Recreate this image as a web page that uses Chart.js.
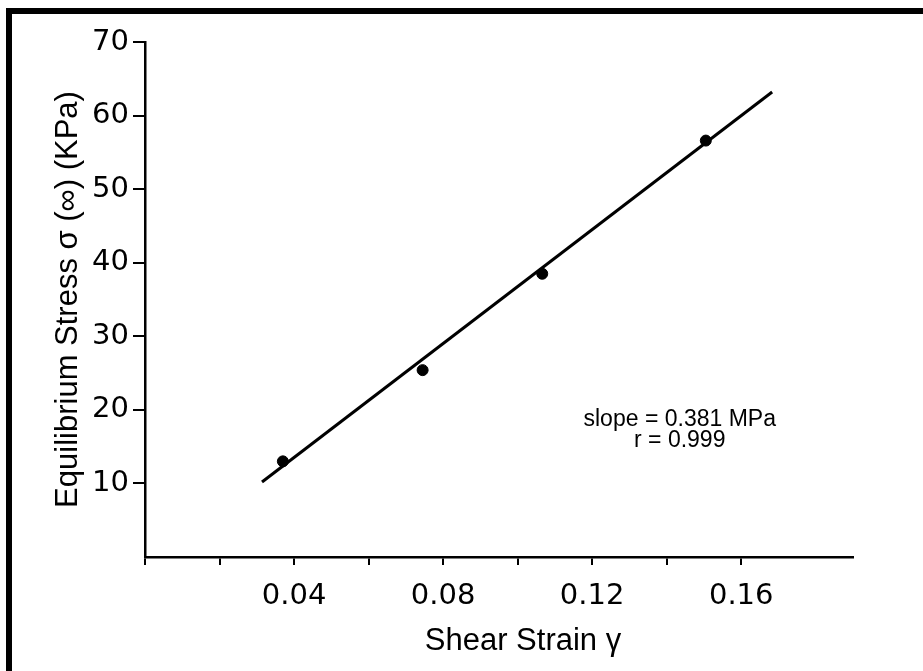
<!DOCTYPE html>
<html>
<head>
<meta charset="utf-8">
<script src="https://cdn.jsdelivr.net/npm/chart.js@4.4.1/dist/chart.umd.min.js"></script>
<style>
  html, body { margin: 0; padding: 0; background: #fff; }
  #wrap  { position: relative; width: 923px; height: 671px; overflow: hidden; }
  #frame { position: absolute; left: 6px; top: 8px; right: -20px; bottom: -20px;
           border-top: 6px solid #000; border-left: 6px solid #000; pointer-events: none; }
</style>
</head>
<body>
<div id="wrap">
  <canvas id="chart" width="923" height="671"></canvas>
  <div id="frame"></div>
</div>
<script>
// ── Equilibrium stress vs shear strain ────────────────────────────────────────
const strain    = [0.037, 0.0745, 0.1066, 0.1505];   // measured points
const stress    = [13.0, 25.4, 38.5, 56.6];
const fitStrain = [0.0314, 0.1683];                  // regression line ends
const fitStress = [10.2, 63.2];

const xTickLabels = ['0.04', '0.08', '0.12', '0.16'];
const yTickLabels = ['10', '20', '30', '40', '50', '60', '70'];
const noteLines   = ['slope = 0.381 MPa', 'r = 0.999'];
const xTitle      = 'Shear Strain γ';

const TICK_FONT  = { family: 'DejaVu Sans', size: 29 };
const TITLE_FONT = 'Liberation Sans';

// slope / r note inside the plot, and the x title (sits a bit right of centre)
const textPlugin = {
  id: 'texts',
  afterDatasetsDraw(chart, args, opts) {
    const { ctx, chartArea, scales: { x, y } } = chart;
    ctx.save();
    ctx.fillStyle = '#000';
    ctx.textAlign = 'center';
    ctx.textBaseline = 'middle';

    ctx.font = `${opts.noteSize}px ${TITLE_FONT}`;
    const px = x.getPixelForValue(opts.noteAt[0]);
    const py = y.getPixelForValue(opts.noteAt[1]);
    noteLines.forEach((t, i) => ctx.fillText(t, px, py + i * opts.noteGap));

    ctx.font = `${opts.titleSize}px ${TITLE_FONT}`;
    ctx.fillText(xTitle, chartArea.left + opts.titleDx, chartArea.bottom + opts.titleDy);
    ctx.restore();
  },
};

new Chart(document.getElementById('chart'), {
  type: 'scatter',
  data: {
    datasets: [
      {
        label: 'data',
        data: strain.map((v, i) => ({ x: v, y: stress[i] })),
        backgroundColor: '#000',
        borderColor: '#000',
        pointRadius: 5.5,
        showLine: false,
      },
      {
        label: 'fit',
        data: fitStrain.map((v, i) => ({ x: v, y: fitStress[i] })),
        borderColor: '#000',
        borderWidth: 3,
        pointRadius: 0,
        showLine: true,
      },
    ],
  },
  options: {
    responsive: false,
    animation: false,
    layout: { padding: { left: 0, top: 42, right: 70, bottom: 0 } },
    plugins: {
      legend:  { display: false },
      tooltip: { enabled: false },
      texts:   { noteAt: [0.1435, 18.7], noteSize: 23, noteGap: 21,
                 titleSize: 31, titleDx: 378, titleDy: 84 },
    },
    scales: {
      x: {
        type: 'linear',
        min: 0, max: 0.19,
        afterFit: s => { s.height = 114; },
        afterBuildTicks: s => { s.ticks = s.ticks.filter(t => t.value <= 0.1601); },
        border: { display: true, color: '#000', width: 2.5 },
        grid: { drawOnChartArea: false, color: '#000', lineWidth: 2, tickLength: 8 },
        ticks: {
          stepSize: 0.02, includeBounds: false, autoSkip: false, maxRotation: 0,
          color: '#000', font: TICK_FONT, padding: 14,
          callback: v => { const s = Number(v).toFixed(2); return xTickLabels.includes(s) ? s : ''; },
        },
      },
      y: {
        min: 0, max: 70,
        afterFit: s => { s.width = 145; },
        border: { display: true, color: '#000', width: 2.5 },
        grid: { drawOnChartArea: false, lineWidth: 2, tickLength: 12,
                color: c => (c.tick && c.tick.value === 0 ? 'rgba(0,0,0,0)' : '#000') },
        ticks: {
          stepSize: 10, color: '#000', font: TICK_FONT, padding: 4,
          callback: v => (yTickLabels.includes(String(v)) ? String(v) : ''),
        },
        title: { display: true, text: 'Equilibrium Stress σ (∞) (KPa)', color: '#000',
                 font: { family: TITLE_FONT, size: 31 }, padding: { top: 50, bottom: 0 } },
      },
    },
  },
  plugins: [textPlugin],
});
</script>
</body>
</html>
